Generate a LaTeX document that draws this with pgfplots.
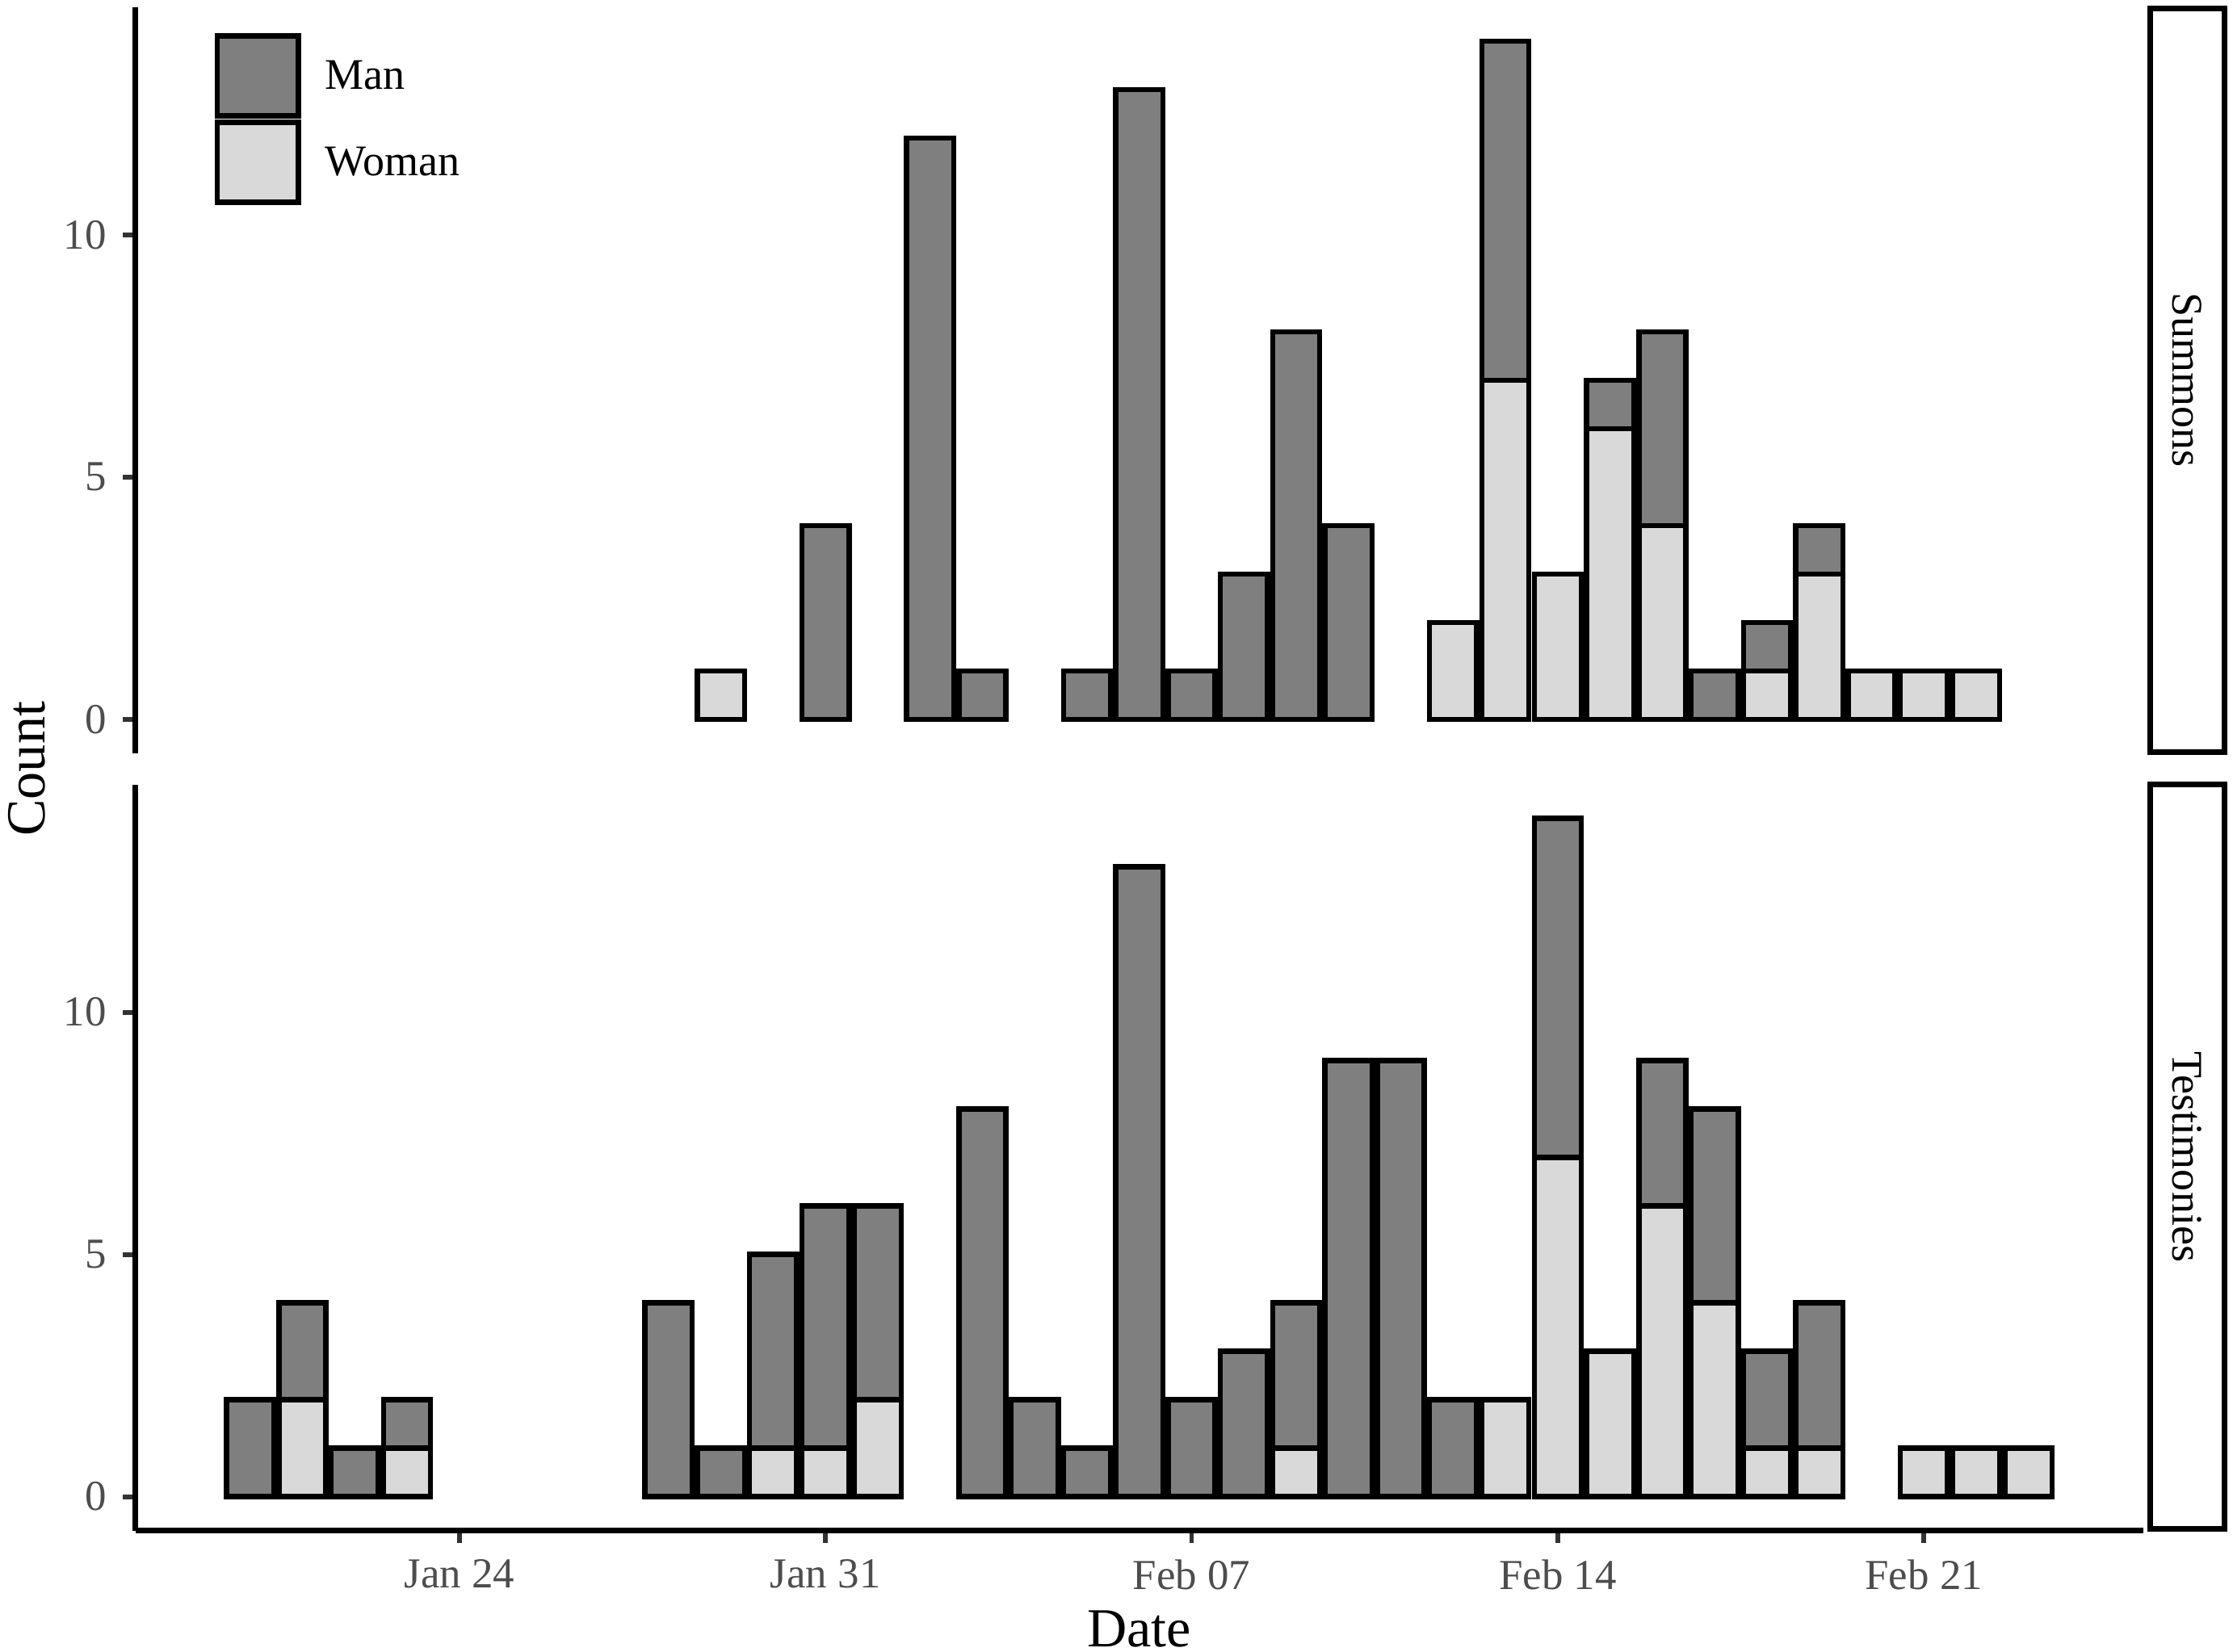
\documentclass[border=0pt]{standalone}
\usepackage{pgfplots}
\pgfplotsset{compat=1.18}
\usepackage{pgfplotstable}
\usepackage{fontspec}
\setmainfont{Liberation Serif}

\definecolor{mancol}{HTML}{7F7F7F}
\definecolor{womancol}{HTML}{D9D9D9}
\definecolor{ticklab}{HTML}{4D4D4D}
\definecolor{tickcol}{HTML}{333333}

% day counted from Jan 24 (= 0)
\pgfplotstableread{
day woman man
5  1 0
7  0 4
9  0 12
10 0 1
12 0 1
13 0 13
14 0 1
15 0 3
16 0 8
17 0 4
19 2 0
20 7 7
21 3 0
22 6 1
23 4 4
24 0 1
25 1 1
26 3 1
27 1 0
28 1 0
29 1 0
}\summons

\pgfplotstableread{
day woman man
-4 0 2
-3 2 2
-2 0 1
-1 1 1
4  0 4
5  0 1
6  1 4
7  1 5
8  2 4
10 0 8
11 0 2
12 0 1
13 0 13
14 0 2
15 0 3
16 1 3
17 0 9
18 0 9
19 0 2
20 2 0
21 7 7
22 3 0
23 6 3
24 4 4
25 1 2
26 1 3
28 1 0
29 1 0
30 1 0
}\testimonies

\pgfplotsset{
  panel/.style={
    scale only axis, width=423pt, height=157.2pt,
    xmin=-6.195, xmax=32.195, ymin=-0.7, ymax=14.7,
    ytick={0,5,10}, minor tick num=0,
    /pgf/number format/assume math mode=true,
    axis y line*=left,
    axis line style={-, line width=1.1pt, black},
    tick align=outside, major tick length=2.6pt,
    tick style={line width=1pt, tickcol},
    ticklabel style={font=\fontsize{9}{10}\selectfont, text=ticklab},
    ybar stacked, bar width=0.9,
  },
  manbar/.style={draw=black, line width=1.1pt, fill=mancol},
  womanbar/.style={draw=black, line width=1.1pt, fill=womancol},
}

\begin{document}
\begin{tikzpicture}
\useasboundingbox (0pt,0pt) rectangle (470.4pt,348pt);

% Summons panel
\begin{axis}[panel, at={(28.5pt,189.3pt)}, anchor=south west,
  axis x line=none,
  legend image code/.code={\draw[#1, line width=1.1pt] (0pt,-7.8pt) rectangle (17.1pt,9pt);},
  reverse legend,
  legend style={at={(axis description cs:0.039,0.966)}, anchor=north west,
    draw=none, fill=none, inner sep=0pt, row sep=0.3pt,
    font=\fontsize{9.2}{11}\selectfont,
    nodes={inner sep=0pt},
    /tikz/every odd column/.append style={column sep=5.1pt}},
  legend cell align=left,
]
\addplot[womanbar] table[x=day, y=woman] {\summons};
\addplot[manbar] table[x=day, y=man] {\summons};
\legend{Woman, Man}
\end{axis}

% Testimonies panel
\begin{axis}[panel, at={(28.5pt,25.5pt)}, anchor=south west,
  axis x line*=bottom,
  xtick={0,7,14,21,28},
  xticklabels={Jan 24, Jan 31, Feb 07, Feb 14, Feb 21},
]
\addplot[womanbar] table[x=day, y=woman] {\testimonies};
\addplot[manbar] table[x=day, y=man] {\testimonies};
\end{axis}

% facet strips
\draw[line width=1.2pt] (453pt,189.6pt) rectangle (468.6pt,346.2pt);
\draw[line width=1.2pt] (453pt,25.8pt) rectangle (468.6pt,182.7pt);
\node[rotate=-90, font=\fontsize{9.2}{11}\selectfont] at (460.8pt,267.9pt) {Summons};
\node[rotate=-90, font=\fontsize{9.2}{11}\selectfont] at (460.8pt,104.25pt) {Testimonies};

% axis titles
\node[rotate=90, font=\fontsize{11.6}{13}\selectfont] at (5.7pt,186pt) {Count};
\node[font=\fontsize{11.6}{13}\selectfont] at (240pt,4.8pt) {Date};
\end{tikzpicture}
\end{document}
